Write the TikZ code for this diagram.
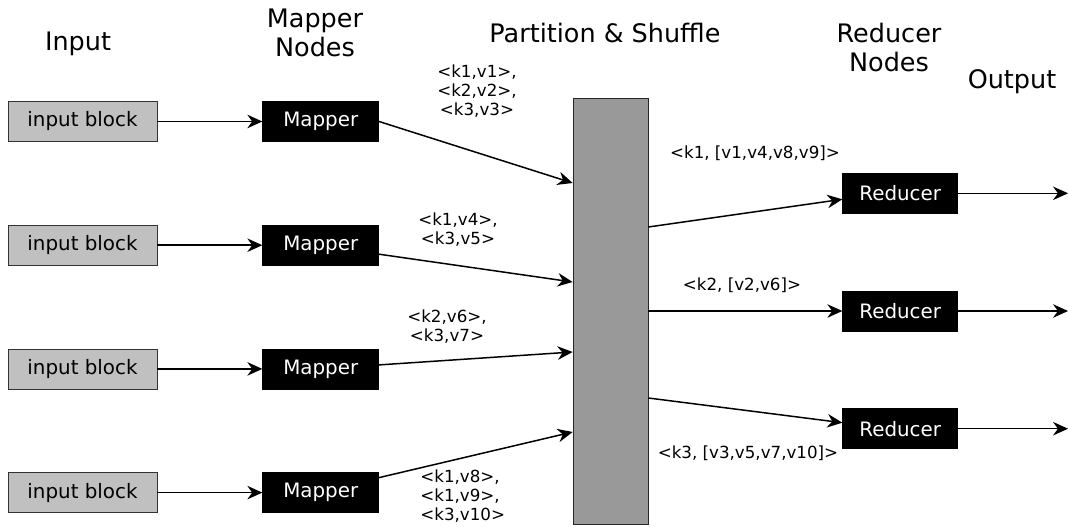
\documentclass[tikz,border=0pt]{standalone}
\usepackage{fontspec}
\setmainfont{DejaVu Sans}
\usepackage{tikz}
\usetikzlibrary{arrows.meta, positioning, calc}
\definecolor{cBlock}{RGB}{192,192,192}
\definecolor{cShuffle}{RGB}{153,153,153}
\tikzset{
    inblock/.style  ={rectangle, minimum width=2.98cm, minimum height=0.8cm, text centered, draw=black!80, fill=cBlock, font=\fontsize{11.3}{13}\selectfont},
    worker/.style   ={rectangle, minimum height=0.8cm, text centered, draw=black, fill=black, text=white, font=\fontsize{11.3}{13}\selectfont},
    mapper/.style   ={worker, minimum width=2.32cm},
    reducer/.style  ={worker, minimum width=2.3cm},
    shuffle/.style  ={rectangle, minimum width=1.5cm, minimum height=8.52cm, inner sep=0pt, draw=black!85, fill=cShuffle},
    heading/.style  ={align=center, font=\fontsize{14.5}{16.5}\selectfont},
    kvlabel/.style  ={align=center, inner sep=0pt, font=\fontsize{9.5}{10.8}\selectfont},
    flowarrow/.style={-{Stealth[length=3mm, width=2.7mm]}, line width=0.85pt},
}
\begin{document}
\begin{tikzpicture}[node distance=1.66cm]
    \useasboundingbox (0,0) rectangle (21.36,-10.54);
    % column headings
    \node[heading] (hin) at (1.56,-0.88) {Input};
    \node[heading] (hmap) at (6.30,-0.65) {Mapper\\Nodes};
    \node[heading] (hshuf) at (12.10,-0.66) {Partition \& Shuffle};
    \node[heading] (hred) at (17.78,-0.95) {Reducer\\Nodes};
    \node[heading] (hout) at (20.24,-1.64) {Output};
    % input blocks and mappers
    \node[inblock] (in1) at (1.65,-2.43) {input block};
    \node[inblock, below=of in1] (in2) {input block};
    \node[inblock, below=of in2] (in3) {input block};
    \node[inblock, below=of in3] (in4) {input block};
    \node[mapper, right=2.1cm of in1] (m1) {Mapper};
    \node[mapper, right=2.1cm of in2] (m2) {Mapper};
    \node[mapper, right=2.1cm of in3] (m3) {Mapper};
    \node[mapper, right=2.1cm of in4] (m4) {Mapper};
    \foreach \i in {1,...,4}
        \draw[flowarrow] (in\i) -- (m\i);
    % shuffle and reducers
    \node[shuffle] (part) at (12.21,-6.22) {};
    \node[reducer, right=3.88cm of part] (r2) {Reducer};
    \node[reducer, above=1.54cm of r2] (r1) {Reducer};
    \node[reducer, below=1.54cm of r2] (r3) {Reducer};
    \draw[flowarrow] (m1.east) -- ([yshift=2.56cm]part.west);
    \draw[flowarrow] ([yshift=-0.18cm]m2.east) -- ([yshift=0.58cm]part.west);
    \draw[flowarrow] ([yshift=0.08cm]m3.east) -- ([yshift=-0.82cm]part.west);
    \draw[flowarrow] ([yshift=0.30cm]m4.east) -- ([yshift=-2.42cm]part.west);
    \draw[flowarrow] ([yshift=1.68cm]part.east) -- ([yshift=-0.12cm]r1.west);
    \draw[flowarrow] (part.east) -- (r2.west);
    \draw[flowarrow] ([yshift=-1.74cm]part.east) -- ([yshift=0.12cm]r3.west);
    % outputs
    \coordinate[right=2.2cm of r1] (o1);
    \coordinate[right=2.2cm of r2] (o2);
    \coordinate[right=2.2cm of r3] (o3);
    \draw[flowarrow] (r1) -- (o1);
    \draw[flowarrow] (r2) -- (o2);
    \draw[flowarrow] (r3) -- (o3);
    % key/value labels
    \node[kvlabel] (kv1) at (9.54,-1.82) {<k1,v1>,\\<k2,v2>,\\<k3,v3>};
    \node[kvlabel] (kv2) at (9.16,-4.60) {<k1,v4>,\\<k3,v5>};
    \node[kvlabel] (kv3) at (8.94,-6.54) {<k2,v6>,\\<k3,v7>};
    \node[kvlabel, align=left, anchor=west] (kv4) at (8.40,-9.92) {<k1,v8>,\\<k1,v9>,\\<k3,v10>};
    \node[kvlabel] (kr1) at (15.10,-3.06) {<k1, [v1,v4,v8,v9]>};
    \node[kvlabel] (kr2) at (14.84,-5.70) {<k2, [v2,v6]>};
    \node[kvlabel] (kr3) at (14.96,-9.06) {<k3, [v3,v5,v7,v10]>};
\end{tikzpicture}
\end{document}
